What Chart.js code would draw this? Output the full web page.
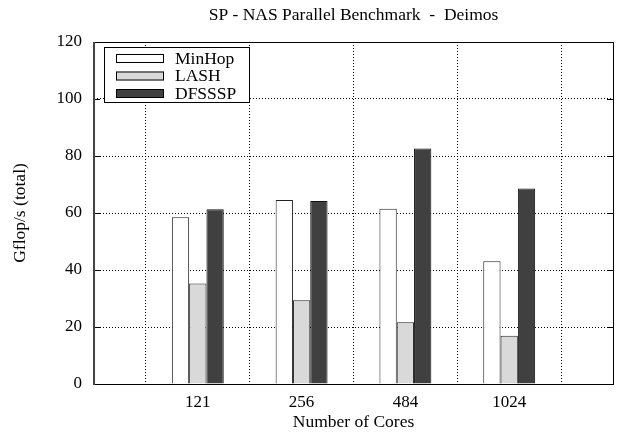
<!DOCTYPE html>
<html>
<head>
<meta charset="utf-8">
<script src="https://cdn.jsdelivr.net/npm/chart.js@4"></script>
<style>
  html, body { margin: 0; padding: 0; background: #fff; }
  #wrap { width: 621px; height: 438px; }
</style>
</head>
<body>
<div id="wrap"><canvas id="chart"></canvas></div>
<script>
// categories (empty slots at both ends, like the gnuplot histogram)
const cores = ['', '121', '256', '484', '1024', ''];
const minhop = [null, 58.5, 64.6, 61.5, 43.1, null];
const lash = [null, 35.3, 29.4, 21.7, 16.9, null];
const dfsssp = [null, 61.3, 64.2, 82.6, 68.6, null];
const yTicks = [0, 20, 40, 60, 80, 100, 120];

const FONT = '"Liberation Serif", "DejaVu Serif", serif';

// box round the plot, inward tick marks and the legend box
const framePlugin = {
    id: 'frame',
    afterDraw(chart) {
        const ctx = chart.ctx;
        const a = chart.chartArea;
        const y = chart.scales.y;
        ctx.save();
        ctx.strokeStyle = '#000';
        ctx.lineWidth = 1;
        // y ticks, both sides, pointing in
        yTicks.forEach(v => {
            const py = Math.round(y.getPixelForValue(v)) + 0.5;
            ctx.beginPath();
            ctx.moveTo(a.left, py); ctx.lineTo(a.left + 6, py);
            ctx.moveTo(a.right, py); ctx.lineTo(a.right - 6, py);
            ctx.stroke();
        });
        ctx.strokeRect(Math.round(a.left) + 0.5, Math.round(a.top) + 0.5,
            Math.round(a.right - a.left), Math.round(a.bottom - a.top));
        ctx.strokeStyle = '#444';
        ctx.lineWidth = 2;
        ctx.beginPath();
        ctx.moveTo(Math.round(a.left), a.top); ctx.lineTo(Math.round(a.left), a.bottom + 1);
        ctx.stroke();

        // legend
        const lx = a.left + 10, ly = a.top + 5, lw = 145, lh = 55;
        ctx.fillStyle = '#fff';
        ctx.fillRect(lx, ly, lw, lh);
        ctx.strokeStyle = '#000';
        ctx.lineWidth = 1;
        ctx.strokeRect(lx + 0.5, ly + 0.5, lw, lh);
        ctx.font = '17.5px ' + FONT;
        ctx.textBaseline = 'middle';
        chart.data.datasets.forEach((ds, i) => {
            const cy = ly + 11 + i * 17.5;
            ctx.fillStyle = ds.backgroundColor;
            ctx.fillRect(lx + 12, cy - 4, 48, 9);
            ctx.strokeStyle = '#000';
            ctx.strokeRect(lx + 12.5, cy - 3.5, 47, 8);
            ctx.fillStyle = '#000';
            ctx.fillText(ds.label, lx + 71, cy + 1);
        });
        ctx.restore();
    }
};

new Chart(document.getElementById('chart'), {
    type: 'bar',
    data: {
        labels: cores,
        datasets: [
            { label: 'MinHop', data: minhop, xAxisID: 'x', yAxisID: 'y', backgroundColor: '#ffffff', borderColor: '#222', borderWidth: 1 },
            { label: 'LASH', data: lash, xAxisID: 'x', yAxisID: 'y', backgroundColor: '#d9d9d9', borderColor: '#222', borderWidth: 1 },
            { label: 'DFSSSP', data: dfsssp, xAxisID: 'x', yAxisID: 'y', backgroundColor: '#404040', borderColor: '#111', borderWidth: 1 }
        ]
    },
    options: {
        responsive: true,
        maintainAspectRatio: false,
        animation: false,
        layout: { padding: { left: 0, right: 7, top: 0, bottom: 0 } },
        datasets: { bar: { categoryPercentage: 0.5, barPercentage: 1.0 } },
        plugins: {
            legend: { display: false },
            tooltip: { enabled: false },
            title: { display: false }
        },
        scales: {
            x: {
                offset: false,
                afterFit: s => { s.height = 54; },
                grid: {
                    color: '#000',
                    lineWidth: 1,
                    drawTicks: false
                },
                border: { display: false, dash: [1, 2] },
                ticks: {
                    color: '#000',
                    padding: 8,
                    font: { family: FONT, size: 17 }
                },
                title: {
                    display: true,
                    text: 'Number of Cores',
                    color: '#000',
                    font: { family: FONT, size: 17.5 },
                    padding: { top: 2, bottom: 5 }
                }
            },
            // top axis only carries the chart title, centred over the plot
            top: {
                type: 'category',
                position: 'top',
                afterFit: s => { s.height = 42; },
                grid: { display: false, drawTicks: false },
                border: { display: false },
                ticks: { display: false },
                title: {
                    display: true,
                    text: 'SP - NAS Parallel Benchmark  -  Deimos',
                    color: '#000',
                    font: { family: FONT, size: 17.5 },
                    padding: { top: 5, bottom: 5 }
                }
            },
            y: {
                min: 0,
                max: 120,
                afterFit: s => { s.width = 94; },
                grid: {
                    color: '#000',
                    lineWidth: 1,
                    drawTicks: false
                },
                border: { display: false, dash: [1, 2] },
                ticks: {
                    stepSize: 20,
                    color: '#000',
                    padding: 12,
                    font: { family: FONT, size: 17 }
                },
                title: {
                    display: true,
                    text: 'Gflop/s (total)',
                    color: '#000',
                    font: { family: FONT, size: 17.5 },
                    padding: { top: 10, bottom: 2 }
                }
            }
        }
    },
    plugins: [framePlugin]
});
</script>
</body>
</html>
